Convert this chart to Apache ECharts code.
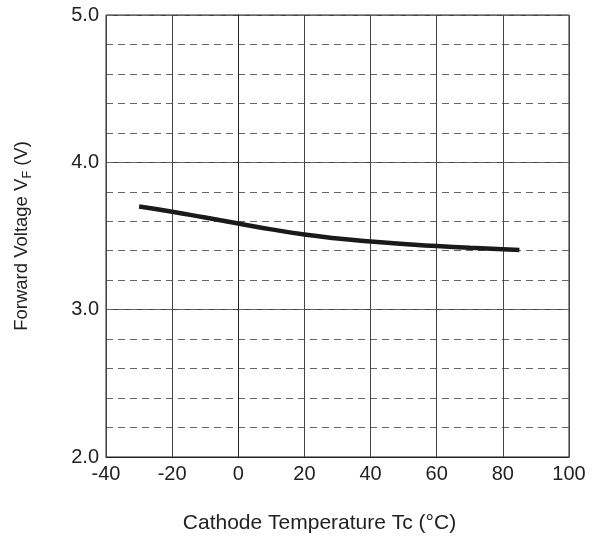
<!DOCTYPE html>
<html>
<head>
<meta charset="utf-8">
<script src="https://cdn.jsdelivr.net/npm/echarts@6/dist/echarts.min.js"></script>
<style>html,body{margin:0;padding:0;background:#fff}#c{width:596px;height:539px}</style>
</head>
<body>
<div id="c"></div>
<script>
var temps = [-30, -20, -10, 0, 10, 20, 30, 40, 50, 60, 70, 80, 85];
var voltages = [3.70, 3.665, 3.625, 3.585, 3.545, 3.51, 3.483, 3.462, 3.445, 3.432, 3.42, 3.41, 3.405];
var xTitle = 'Cathode Temperature Tc (°C)';
var yTitleMain = 'Forward Voltage V';
var yTitleSub = 'F';
var yTitleTail = ' (V)';

var chart = echarts.init(document.getElementById('c'));
var font = 'Liberation Sans, Arial, sans-serif';
chart.setOption({
  animation: false,
  backgroundColor: '#fff',
  grid: {left: 106, top: 15, right: 27, bottom: 82, show: true, borderColor: '#222', borderWidth: 1, containLabel: false},
  xAxis: {
    type: 'value', min: -40, max: 100, interval: 20,
    name: xTitle, nameLocation: 'middle', nameGap: 56,
    nameTextStyle: {fontFamily: font, fontSize: 21, color: '#222', padding: [0, 36, 0, 0]},
    axisLine: {show: true, lineStyle: {color: '#222', width: 1}},
    axisTick: {show: false},
    axisLabel: {fontFamily: font, fontSize: 20, color: '#222', margin: 7},
    splitLine: {show: true, lineStyle: {color: '#444', width: 1, type: 'solid'}}
  },
  yAxis: [{
    type: 'value', min: 2, max: 5, interval: 1,
    name: '{a|' + yTitleMain + '}{s|' + yTitleSub + '}{a|' + yTitleTail + '}',
    nameLocation: 'middle', nameGap: 72, nameRotate: 90,
    nameTextStyle: {fontFamily: font, fontSize: 18.5, color: '#222',
      rich: {a: {fontFamily: font, fontSize: 18.5, color: '#222', lineHeight: 24, verticalAlign: 'middle'},
             s: {fontFamily: font, fontSize: 12.5, color: '#222', lineHeight: 24, verticalAlign: 'bottom'}}},
    axisLine: {show: true, lineStyle: {color: '#222', width: 1}},
    axisTick: {show: false},
    axisLabel: {fontFamily: font, fontSize: 20, color: '#222', margin: 7,
      formatter: function (v) { return v.toFixed(1); }},
    splitLine: {show: true, lineStyle: {color: '#444', width: 1, type: 'solid'}}
  }, {
    type: 'value', min: 2, max: 5, interval: 0.2, position: 'left',
    axisLine: {show: false}, axisTick: {show: false}, axisLabel: {show: false},
    splitLine: {show: true, lineStyle: {color: '#666', width: 1, type: [7, 5]}}
  }],
  series: [{
    type: 'line', smooth: true, showSymbol: false, yAxisIndex: 0,
    data: temps.map(function (t, i) { return [t, voltages[i]]; }),
    lineStyle: {color: '#1a1a1a', width: 4.5},
    z: 5
  }]
});
</script>
</body>
</html>
